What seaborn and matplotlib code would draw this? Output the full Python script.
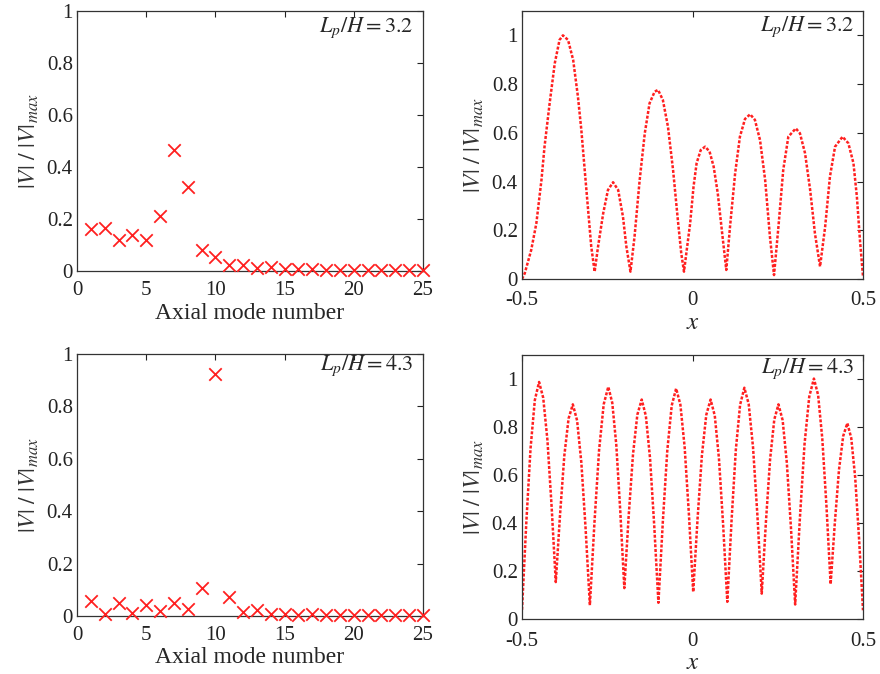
import numpy as np
import pandas as pd
import matplotlib
matplotlib.use("Agg")
import matplotlib.pyplot as plt
import seaborn as sns

# ---- data ----
modes = list(range(1, 26))

amp_32 = [0.162, 0.165, 0.119, 0.140, 0.119, 0.211, 0.466, 0.323, 0.079, 0.055,
          0.023, 0.023, 0.013, 0.017, 0.009, 0.009, 0.007, 0.005, 0.004, 0.004,
          0.004, 0.004, 0.004, 0.004, 0.004]

amp_43 = [0.057, 0.009, 0.050, 0.011, 0.041, 0.018, 0.050, 0.028, 0.107, 0.922,
          0.073, 0.015, 0.022, 0.006, 0.009, 0.003, 0.006, 0.003, 0.003, 0.003,
          0.003, 0.003, 0.003, 0.003, 0.003]

# mode shape along x, L_p/H = 3.2
x_32 = [-0.5, -0.492, -0.473, -0.458, -0.443, -0.434, -0.419, -0.404, -0.390,
        -0.380, -0.365, -0.350, -0.336, -0.326, -0.317, -0.307, -0.297, -0.287,
        -0.277, -0.262, -0.248, -0.233, -0.218, -0.204, -0.194, -0.182,
        -0.170, -0.155, -0.140, -0.126, -0.111, -0.101, -0.087, -0.072, -0.057,
        -0.043, -0.033, -0.025,
        -0.007, 0.003, 0.012, 0.024, 0.037, 0.050, 0.062, 0.074, 0.087, 0.099,
        0.110, 0.125, 0.139, 0.154, 0.169, 0.183, 0.198, 0.213, 0.227, 0.239,
        0.252, 0.266, 0.281, 0.303, 0.315, 0.330, 0.345, 0.359, 0.374,
        0.389, 0.403, 0.418, 0.440, 0.457, 0.472, 0.482, 0.491, 0.500]
v_32 = [0.0, 0.023, 0.119, 0.228, 0.406, 0.543, 0.721, 0.885, 0.981,
        1.0, 0.981, 0.899, 0.748, 0.611, 0.461, 0.297, 0.133, 0.030,
        0.133, 0.269, 0.365, 0.397, 0.365, 0.256, 0.133, 0.030,
        0.174, 0.406, 0.598, 0.721, 0.769, 0.776, 0.735, 0.625, 0.447,
        0.242, 0.105, 0.030,
        0.228, 0.379, 0.475, 0.529, 0.543, 0.523, 0.461, 0.352, 0.187, 0.037,
        0.215, 0.434, 0.584, 0.657, 0.676, 0.653, 0.570, 0.406, 0.174, 0.016,
        0.215, 0.447, 0.584, 0.618, 0.598, 0.516, 0.365, 0.187, 0.051,
        0.215, 0.420, 0.543, 0.584, 0.557, 0.475, 0.338, 0.160, 0.010]

# mode shape along x, L_p/H = 4.3
x_43 = [-0.5, -0.4875, -0.475, -0.4625, -0.45, -0.4378, -0.4255, -0.4133,
        -0.401, -0.3885, -0.376, -0.3635, -0.351, -0.3385, -0.326, -0.3135,
        -0.301, -0.2875, -0.274, -0.2605, -0.247, -0.2353, -0.2235, -0.2118,
        -0.2, -0.1873, -0.1745, -0.1618, -0.149, -0.1368, -0.1245, -0.1123,
        -0.1, -0.087, -0.074, -0.061, -0.048, -0.0355, -0.023, -0.0105,
        0.002, 0.0148, 0.0275, 0.0403, 0.053, 0.0653, 0.0775, 0.0898,
        0.102, 0.1145, 0.127, 0.1395, 0.152, 0.1648, 0.1775, 0.1903,
        0.203, 0.2153, 0.2275, 0.2398, 0.252, 0.2643, 0.2765, 0.2888,
        0.301, 0.3148, 0.3285, 0.3423, 0.356, 0.3683, 0.3805, 0.3928,
        0.405, 0.4173, 0.4295, 0.4418, 0.454, 0.4655, 0.477, 0.4885, 0.5]
v_43 = [0.04, 0.40, 0.71, 0.91, 0.986, 0.92, 0.745, 0.471,
        0.155, 0.435, 0.679, 0.834, 0.893, 0.826, 0.651, 0.376,
        0.059, 0.404, 0.703, 0.893, 0.966, 0.899, 0.724, 0.448,
        0.13, 0.428, 0.686, 0.85, 0.913, 0.845, 0.668, 0.39,
        0.069, 0.407, 0.701, 0.888, 0.959, 0.891, 0.714, 0.435,
        0.114, 0.418, 0.681, 0.849, 0.913, 0.846, 0.669, 0.392,
        0.073, 0.411, 0.704, 0.891, 0.962, 0.894, 0.714, 0.432,
        0.107, 0.406, 0.665, 0.83, 0.893, 0.827, 0.652, 0.378,
        0.062, 0.418, 0.728, 0.925, 1.0, 0.932, 0.752, 0.471,
        0.146, 0.40, 0.621, 0.761, 0.815, 0.753, 0.59, 0.333, 0.038]

ratio_labels = [r"$L_p/H = 3.2$", r"$L_p/H = 4.3$"]
ytick_vals = [0, 0.2, 0.4, 0.6, 0.8, 1]
ytick_txt = ["0", "0.2", "0.4", "0.6", "0.8", "1"]

sns.set_style("white")
plt.rcParams["font.family"] = ["Liberation Serif", "DejaVu Serif"]
plt.rcParams["mathtext.fontset"] = "stix"

fig = plt.figure(figsize=(8.8, 6.74), dpi=100)

ax_tl = fig.add_axes([0.0875, 0.5979, 0.3932, 0.3858])
ax_tr = fig.add_axes([0.5932, 0.5861, 0.3875, 0.3976])
ax_bl = fig.add_axes([0.0875, 0.0861, 0.3932, 0.3887])
ax_br = fig.add_axes([0.5932, 0.0810, 0.3875, 0.3930])

ylab = r"$|V|\ /\ |V|_{max}$"
red = "#ff2020"


def style_axes(ax, xpad=7):
    '''
    MATLAB look: inward ticks on all four sides, thin dark frame
    '''
    for sp in ax.spines.values():
        sp.set_color("#333333")
        sp.set_linewidth(0.9)
    ax.tick_params(direction="in", length=4, width=0.8, top=True, right=True,
                   labelsize=15, colors="#222222")
    ax.tick_params(axis="x", pad=xpad)
    ax.tick_params(axis="y", pad=3)


def scatter_panel(ax, amp, label, ann_y):
    df = pd.DataFrame({"mode": modes, "amp": amp})
    sns.scatterplot(data=df, x="mode", y="amp", marker="x", color=red,
                    s=80, linewidth=1.3, ax=ax, clip_on=False, zorder=3)
    ax.set_xlim(0, 25)
    ax.set_ylim(0, 1)
    ax.set_xticks([0, 5, 10, 15, 20, 25])
    ax.set_xticklabels(["0", "5", "10", "15", "20", "25"])
    ax.set_yticks(ytick_vals)
    ax.set_yticklabels(ytick_txt)
    ax.set_xlabel("Axial mode number", fontsize=17, labelpad=2)
    ax.set_ylabel(ylab, fontsize=17, labelpad=4, color="#333333")
    ax.text(0.972, ann_y, label, transform=ax.transAxes, ha="right",
            va="center", fontsize=16)
    style_axes(ax)


def curve_panel(ax, xs, vs, label, ann_y):
    df = pd.DataFrame({"x": xs, "v": vs})
    sns.lineplot(data=df, x="x", y="v", sort=False, estimator=None,
                 color=red, linewidth=1.8, linestyle=(0, (1.2, 0.7)), ax=ax)
    ax.set_xlim(-0.5, 0.5)
    ax.set_ylim(0, 1.1)
    ax.set_xticks([-0.5, 0, 0.5])
    ax.set_xticklabels(["-0.5", "0", "0.5"])
    ax.set_yticks(ytick_vals)
    ax.set_yticklabels(ytick_txt)
    ax.set_xlabel(r"$x$", fontsize=18, labelpad=1)
    ax.set_ylabel(ylab, fontsize=17, labelpad=4, color="#333333")
    ax.text(0.975, ann_y, label, transform=ax.transAxes, ha="right",
            va="center", fontsize=16)
    style_axes(ax, xpad=9)


scatter_panel(ax_tl, amp_32, ratio_labels[0], 0.935)
curve_panel(ax_tr, x_32, v_32, ratio_labels[0], 0.94)
scatter_panel(ax_bl, amp_43, ratio_labels[1], 0.955)
curve_panel(ax_br, x_43, v_43, ratio_labels[1], 0.948)

plt.savefig("out.png", dpi=100)
